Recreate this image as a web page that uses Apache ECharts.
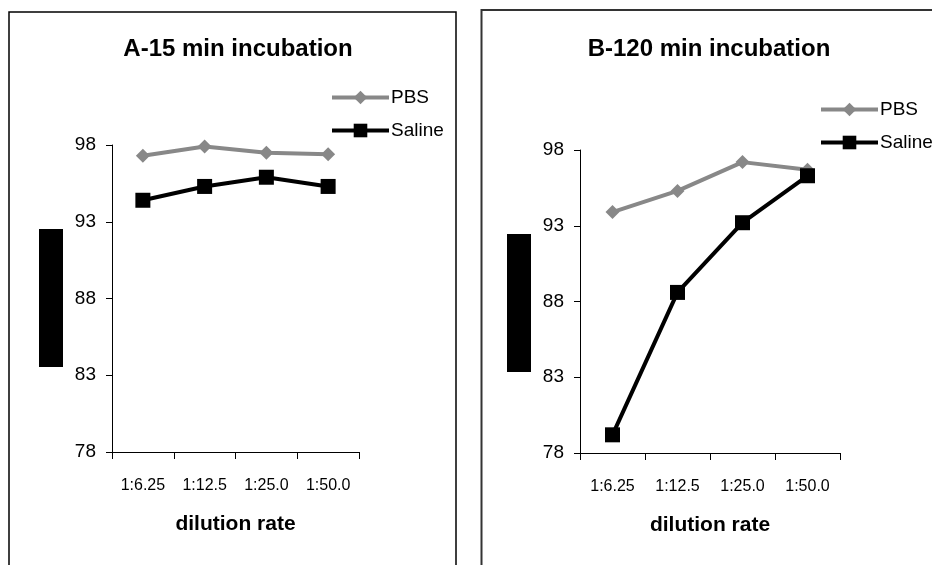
<!DOCTYPE html>
<html>
<head>
<meta charset="utf-8">
<script src="https://cdn.jsdelivr.net/npm/echarts@6/dist/echarts.min.js"></script>
<style>
html,body{margin:0;padding:0;background:#fff;}
#chart{width:932px;height:565px;}
</style>
</head>
<body>
<div id="chart"></div>
<script>
var categories = ['1:6.25', '1:12.5', '1:25.0', '1:50.0'];
var pbsA = [97.3, 97.9, 97.5, 97.4];
var salineA = [94.4, 95.3, 95.9, 95.3];
var pbsB = [93.9, 95.3, 97.2, 96.7];
var salineB = [79.2, 88.6, 93.2, 96.3];
var titles = ['A-15 min incubation', 'B-120 min incubation'];
var axisName = 'dilution rate';
var yMin = 78, yMax = 98, yStep = 5;

var FONT = 'Liberation Sans, Arial, sans-serif';
var GRAY = '#888888';

function xAxisCfg(gi) {
  return {
    type: 'category', gridIndex: gi, data: categories, boundaryGap: true,
    axisLine: {show: true, lineStyle: {color: '#000', width: 1}},
    axisTick: {show: true, inside: false, interval: 0, alignWithLabel: false, length: 7, lineStyle: {color: '#000', width: 1}},
    axisLabel: {color: '#000', fontSize: 16, fontFamily: FONT, margin: 26},
    name: axisName, nameLocation: 'middle', nameGap: 62,
    nameTextStyle: {color: '#000', fontSize: 21, fontWeight: 'bold', fontFamily: FONT}
  };
}
function yAxisCfg(gi) {
  return {
    type: 'value', gridIndex: gi, min: yMin, max: yMax, interval: yStep,
    axisLine: {show: true, lineStyle: {color: '#000', width: 1}},
    axisTick: {show: true, inside: false, length: 6, lineStyle: {color: '#000', width: 1}},
    splitLine: {show: false},
    axisLabel: {color: '#000', fontSize: 19, fontFamily: FONT, margin: 16}
  };
}
function pbsSeries(gi, data) {
  return {
    name: 'PBS', type: 'line', xAxisIndex: gi, yAxisIndex: gi, data: data,
    symbol: 'diamond', symbolSize: 14,
    lineStyle: {color: GRAY, width: 4}, itemStyle: {color: GRAY}, z: 3
  };
}
function salineSeries(gi, data) {
  return {
    name: 'Saline', type: 'line', xAxisIndex: gi, yAxisIndex: gi, data: data,
    symbol: 'rect', symbolSize: 15,
    lineStyle: {color: '#000', width: 4}, itemStyle: {color: '#000'}, z: 4
  };
}
function legendCfg(left, top) {
  return {
    left: left, top: top, orient: 'vertical', itemWidth: 57, itemHeight: 17, itemGap: 14,
    data: ['PBS', 'Saline'],
    lineStyle: {width: 4},
    textStyle: {color: '#000', fontSize: 19, fontFamily: FONT, padding: [0, 0, 0, -3]},
    padding: 0
  };
}

var chart = echarts.init(document.getElementById('chart'), null, {renderer: 'canvas'});
chart.setOption({
  backgroundColor: '#fff',
  animation: false,
  title: [
    {text: titles[0], left: 233, top: 32, textAlign: 'center',
     textStyle: {fontSize: 24, fontWeight: 'bold', color: '#000', fontFamily: FONT}},
    {text: titles[1], left: 704, top: 32, textAlign: 'center',
     textStyle: {fontSize: 24, fontWeight: 'bold', color: '#000', fontFamily: FONT}}
  ],
  grid: [
    {left: 112, top: 145, width: 247, height: 307},
    {left: 580, top: 150, width: 260, height: 303}
  ],
  xAxis: [xAxisCfg(0), xAxisCfg(1)],
  yAxis: [yAxisCfg(0), yAxisCfg(1)],
  legend: [legendCfg(330, 88), legendCfg(819, 100)],
  series: [pbsSeries(0, pbsA), salineSeries(0, salineA), pbsSeries(1, pbsB), salineSeries(1, salineB)],
  graphic: [
    {type: 'rect', shape: {x: 9, y: 12, width: 447, height: 600}, style: {fill: 'none', stroke: '#000', lineWidth: 1.5}, silent: true},
    {type: 'rect', shape: {x: 481.5, y: 10, width: 500, height: 600}, style: {fill: 'none', stroke: '#333', lineWidth: 2}, silent: true},
    {type: 'rect', shape: {x: 39, y: 229, width: 24, height: 138}, style: {fill: '#000'}, silent: true},
    {type: 'rect', shape: {x: 507, y: 234, width: 24, height: 138}, style: {fill: '#000'}, silent: true}
  ]
});
</script>
</body>
</html>
